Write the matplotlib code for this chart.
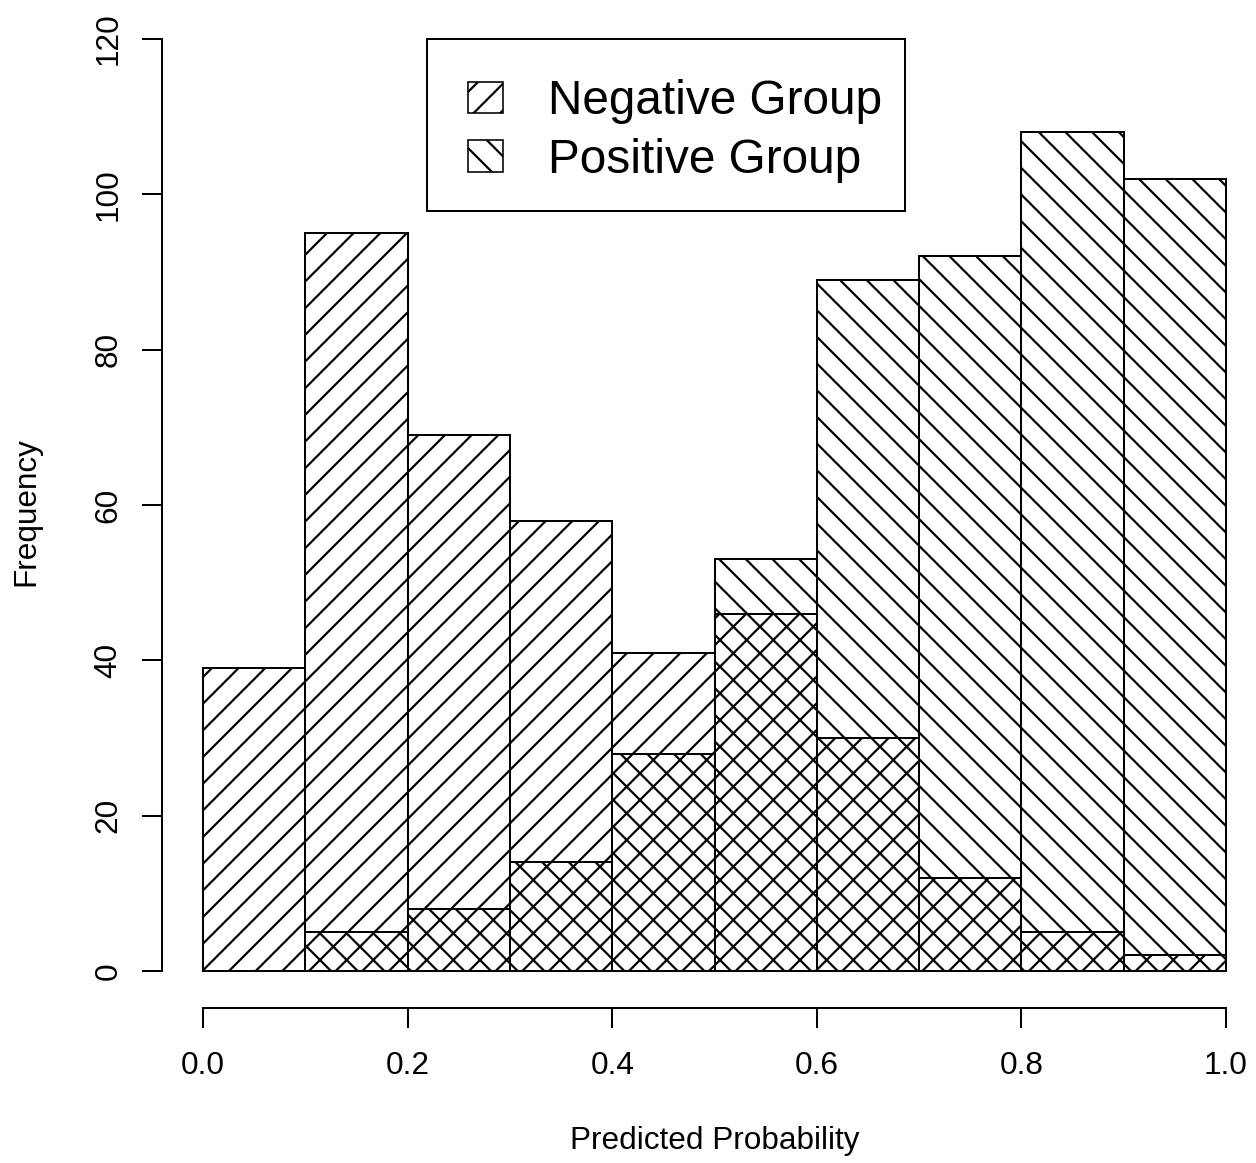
import matplotlib
matplotlib.use("Agg")
import matplotlib.pyplot as plt
from matplotlib.patches import Patch, Rectangle
import numpy as np

# Data
bin_edges = [0.0, 0.1, 0.2, 0.3, 0.4, 0.5, 0.6, 0.7, 0.8, 0.9, 1.0]
negative_counts = [39, 95, 69, 58, 41, 46, 30, 12, 5, 2]
positive_counts = [0, 5, 8, 14, 28, 53, 89, 92, 108, 102]
x_ticks = [0.0, 0.2, 0.4, 0.6, 0.8, 1.0]
x_tick_labels = ["0.0", "0.2", "0.4", "0.6", "0.8", "1.0"]
y_ticks = [0, 20, 40, 60, 80, 100, 120]
legend_labels = ["Negative Group", "Positive Group"]

DPI = 160
W, H = 1256, 1163
plt.rcParams['font.family'] = ['Liberation Sans', 'DejaVu Sans']
plt.rcParams['hatch.linewidth'] = 1.0
plt.rcParams['hatch.color'] = 'black'

def px2pt(p):
    return p * 72.0 / DPI

fig = plt.figure(figsize=(W / DPI, H / DPI), dpi=DPI)
left = 162.08 / W
bottom = (H - 1008.3) / H
width = 1.08 * 1023 / W
height = (1008.3 - 1.7) / H
ax = fig.add_axes([left, bottom, width, height])
ax.set_xlim(-0.04, 1.04)
ax.set_ylim(-4.8, 124.8)

edges = np.array(bin_edges)
widths = np.diff(edges)
lw = px2pt(2.0)
ax.bar(edges[:-1], negative_counts, width=widths, align='edge',
       facecolor='none', edgecolor='black', hatch='//', linewidth=lw)
ax.bar(edges[:-1], positive_counts, width=widths, align='edge',
       facecolor='none', edgecolor='black', hatch='\\\\', linewidth=lw)

for s in ['top', 'right']:
    ax.spines[s].set_visible(False)
ax.spines['left'].set_bounds(0, 120)
ax.spines['bottom'].set_bounds(0, 1)
ax.spines['left'].set_linewidth(lw)
ax.spines['bottom'].set_linewidth(lw)

fs = px2pt(31.5)
ax.set_xticks(x_ticks)
ax.set_xticklabels(x_tick_labels)
ax.set_yticks(y_ticks)
ax.set_yticklabels([str(v) for v in y_ticks], rotation=90, va='center')
ax.tick_params(axis='both', direction='out', length=px2pt(20), width=lw,
               labelsize=fs)
ax.tick_params(axis='x', pad=px2pt(23))
ax.tick_params(axis='y', pad=px2pt(18.5))

ax.set_xlabel("Predicted Probability", fontsize=fs, va='center')
ax.xaxis.set_label_coords(714.5 / W, 1 - 1141 / H, transform=fig.transFigure)
ax.set_ylabel("Frequency", fontsize=fs, va='center')
ax.yaxis.set_label_coords(26 / W, 1 - 512 / H, transform=fig.transFigure)

# Legend frame
frame = Rectangle((427 / W, 1 - 211 / H), (905 - 427) / W, (211 - 39) / H,
                  transform=fig.transFigure, facecolor='white',
                  edgecolor='black', linewidth=lw, zorder=5)
fig.patches.append(frame)

lfs = px2pt(47.8)
handles = [Patch(facecolor='none', edgecolor='black', hatch='//', linewidth=px2pt(1.6)),
           Patch(facecolor='none', edgecolor='black', hatch='\\\\', linewidth=px2pt(1.6))]
leg = fig.legend(handles, legend_labels, loc='upper left',
                 bbox_to_anchor=(468 / W, 1 - 79 / H), frameon=False,
                 fontsize=lfs, handlelength=0.73, handleheight=0.63,
                 handletextpad=0.94, labelspacing=0.29, borderpad=0.0,
                 borderaxespad=0.0)
leg.set_zorder(6)

fig.savefig("out.png", dpi=DPI)
